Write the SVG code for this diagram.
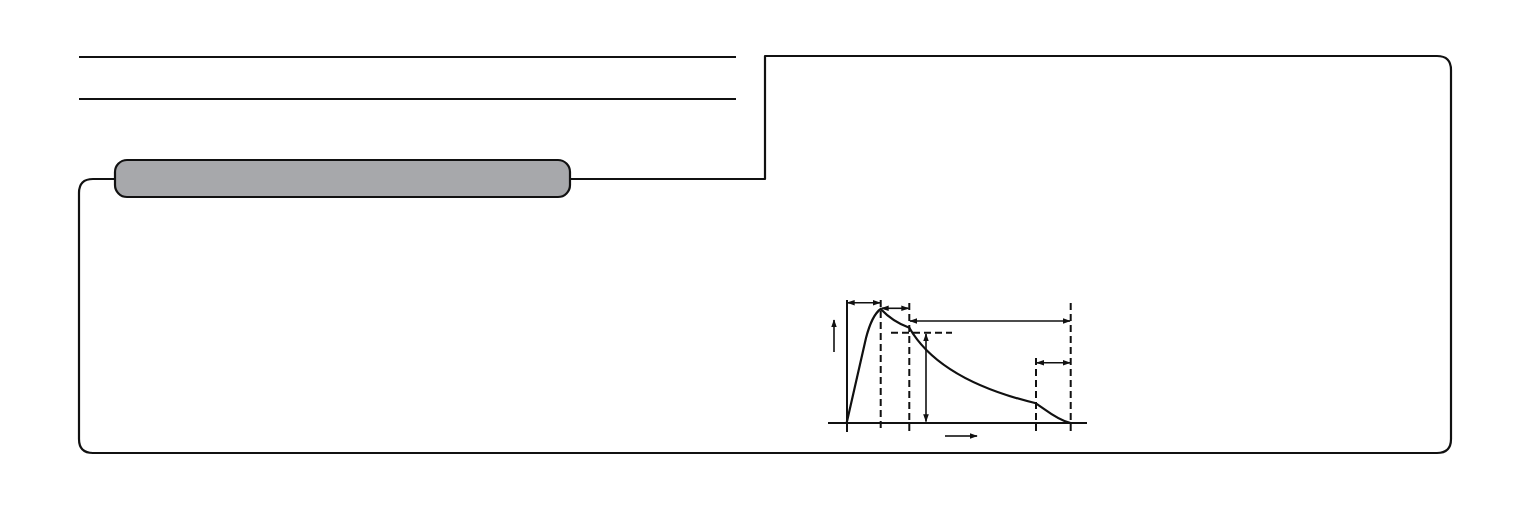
<svg xmlns="http://www.w3.org/2000/svg" width="1531" height="510" viewBox="0 0 1531 510">
  <defs>
    <style>
      .ln { fill: none; stroke: #111; stroke-width: 2; }
      .frame { fill: none; stroke: #111; stroke-width: 2.2; stroke-linejoin: round; }
      .pill { fill: #a7a8ab; stroke: #111; stroke-width: 2.2; }
      .dash { fill: none; stroke: #111; stroke-width: 2; stroke-dasharray: 7 4; }
      .curve { fill: none; stroke: #111; stroke-width: 2.2; }
      .arr { fill: none; stroke: #111; stroke-width: 1.6; marker-start: url(#ah); marker-end: url(#ah); }
      .arr1 { fill: none; stroke: #111; stroke-width: 1.6; marker-end: url(#ah); }
    </style>
    <marker id="ah" viewBox="0 0 10 10" refX="9" refY="5" markerWidth="5" markerHeight="5" orient="auto-start-reverse" markerUnits="strokeWidth">
      <path d="M0,1.5 L10,5 L0,8.5 z" fill="#111"/>
    </marker>
  </defs>
  <rect width="1531" height="510" fill="#fff"/>

  <g id="title-lines">
    <line class="ln" x1="79" y1="57" x2="736" y2="57"/>
    <line class="ln" x1="79" y1="99" x2="736" y2="99"/>
  </g>

  <g id="connectors">
    <path class="frame" d="M570,179 H765 V56 H1437 Q1451,56 1451,70 V439 Q1451,453 1437,453 H93 Q79,453 79,439 V193 Q79,179 93,179 H115"/>
  </g>

  <g id="header-node">
    <rect class="pill" x="115" y="160" width="455" height="37" rx="12" ry="12"/>
  </g>

  <g id="chart">
    <line class="ln" x1="847" y1="300" x2="847" y2="432"/>
    <line class="ln" x1="828" y1="423" x2="1087" y2="423"/>
    <line class="dash" x1="880.7" y1="300" x2="880.7" y2="432"/>
    <line class="dash" x1="909.3" y1="303" x2="909.3" y2="432"/>
    <line class="dash" x1="1036" y1="358" x2="1036" y2="432"/>
    <line class="dash" x1="1070.7" y1="303" x2="1070.7" y2="432"/>
    <line class="dash" x1="891" y1="332.7" x2="952" y2="332.7"/>
    <path class="curve" d="M846.7,422.7 L866,338 Q872,315 880.7,309 Q893,322 909.3,327.7 C925,355 960,385 1036,403.3 C1046,410 1058,420.5 1070.7,423"/>
    <line class="arr" x1="847.5" y1="302.7" x2="880" y2="302.7"/>
    <line class="arr" x1="881.5" y1="308.3" x2="908.5" y2="308.3"/>
    <line class="arr" x1="910" y1="321" x2="1070" y2="321"/>
    <line class="arr" x1="1036.8" y1="362.7" x2="1070" y2="362.7"/>
    <line class="arr" x1="926" y1="334" x2="926" y2="421.5"/>
    <line class="arr1" x1="834" y1="352" x2="834" y2="320"/>
    <line class="arr1" x1="945" y1="436" x2="977" y2="436"/>
  </g>
</svg>
